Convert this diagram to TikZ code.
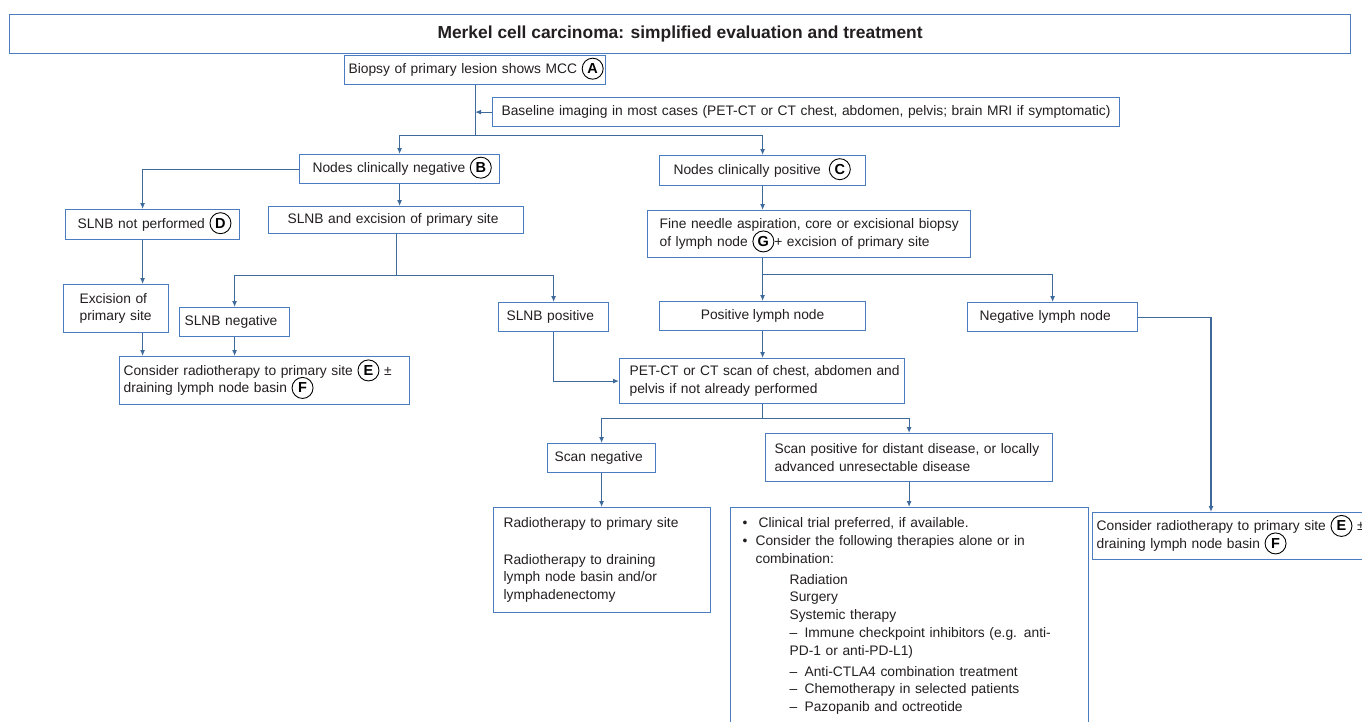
\documentclass[tikz,border=0pt]{standalone}
\usepackage{fontspec}
\setmainfont{Liberation Sans}
\usetikzlibrary{arrows.meta}
\definecolor{boxblue}{HTML}{4A7CBF}
\definecolor{lineblue}{HTML}{3D6A9B}
\definecolor{ink}{HTML}{231F20}
% circled step letter
\newcommand{\lettermark}[1]{\smash{\tikz[baseline=(m.base)]\node[circle,draw=black,fill=white,line width=0.9pt,inner sep=0pt,minimum size=21pt,text width=,align=center,text=black,font=\fontsize{14.5}{14.5}\selectfont\bfseries] (m) {#1};}}

\begin{document}
\begin{tikzpicture}[
  x=1pt, y=-1pt,
  font=\fontsize{13.8}{17.5}\selectfont,
  box/.style={
    draw=boxblue,
    line width=1.2pt,
    fill=white,
    text=ink,
    anchor=north west,
    align=left,
    inner ysep=0pt
  },
  line/.style={draw=lineblue,line width=1.1pt},
  arrow/.style={line,-{Latex[length=6pt,width=5pt]}}
]
\useasboundingbox (0,0) rectangle (1362,721);
\clip (0,0) rectangle (1362,721);
\fill[white] (0,0) rectangle (1362,721);

\node[box,align=center,minimum width=1341pt,minimum height=39pt,font=\fontsize{17.4}{20}\selectfont\bfseries] (title) at (9,14) {Merkel cell carcinoma: simplified evaluation and treatment};

% evaluation
\node[box,text width=253pt,inner xsep=4pt,minimum height=29pt] (biopsy) at (344,55) {\mbox{Biopsy of primary lesion shows MCC \lettermark{A}}};
\node[box,text width=609pt,inner xsep=9pt,minimum height=29pt] (baseline) at (492,97) {\mbox{Baseline imaging in most cases (PET-CT or CT chest, abdomen, pelvis; brain MRI if symptomatic)}};
\node[box,text width=188pt,inner xsep=6pt,minimum height=29pt] (ncn) at (299,154) {\mbox{\hspace*{7pt}Nodes clinically negative \lettermark{B}}};
\node[box,text width=178pt,inner xsep=14pt,minimum height=30pt] (ncp) at (659,155) {\mbox{Nodes clinically positive\hspace{8pt}\lettermark{C}}};

% clinically negative branch
\node[box,text width=158pt,inner xsep=8pt,minimum height=30pt] (notperf) at (65,209) {\mbox{\hspace*{4pt}SLNB not performed \lettermark{D}}};
\node[box,text width=217pt,inner xsep=19pt,minimum height=27pt] (slnbexc) at (268,206) {\mbox{SLNB and excision of primary site}};
\node[box,text width=73pt,inner xsep=16pt,minimum height=48pt] (excision) at (63,284) {\mbox{Excision of}\\\mbox{primary site}};
\node[box,text width=100pt,inner xsep=5pt,minimum height=29pt] (slnbneg) at (179,307) {\mbox{SLNB negative}};
\node[box,text width=94pt,inner xsep=8pt,minimum height=29pt] (slnbpos) at (498,302) {\mbox{SLNB positive}};
\node[box,text width=282pt,inner xsep=4pt,minimum height=48pt] (considerL) at (119,356) {\mbox{Consider radiotherapy to primary site \lettermark{E} ±}\\\mbox{draining lymph node basin \lettermark{F}}};

% clinically positive branch
\node[box,text width=299pt,inner xsep=12pt,minimum height=47pt] (fna) at (647,210) {\mbox{Fine needle aspiration, core or excisional biopsy}\\\mbox{of lymph node \lettermark{G}+ excision of primary site}};
\node[box,align=center,minimum width=206pt,minimum height=29pt] (poslymph) at (659,301) {Positive lymph node};
\node[box,text width=146pt,inner xsep=12pt,minimum height=29pt] (neglymph) at (967,302) {\mbox{Negative lymph node}};
\node[box,text width=265pt,inner xsep=10pt,minimum height=45pt] (petct) at (619,358) {\mbox{PET-CT or CT scan of chest, abdomen and}\\\mbox{pelvis if not already performed}};
\node[box,text width=94pt,inner xsep=7pt,minimum height=29pt] (scanneg) at (547,443) {\mbox{Scan negative}};
\node[box,text width=269pt,inner xsep=9pt,minimum height=48pt] (scanpos) at (765,433) {\mbox{Scan positive for distant disease, or locally}\\\mbox{advanced unresectable disease}};
\node[box,text width=197pt,inner xsep=10pt,minimum height=105pt] (radio) at (493,507) {Radiotherapy to primary site\\[19pt]Radiotherapy to draining\\lymph node basin and/or\\lymphadenectomy};
\node[box,text width=334pt,inner xsep=12pt,inner ysep=10pt,font=\fontsize{13.8}{17.8}\selectfont] (therapy) at (730,507) {%
\makebox[16pt][l]{\textbullet}Clinical trial preferred, if available.\\
\makebox[13pt][l]{\textbullet}Consider the following therapies alone or in\\
\hspace*{13pt}combination:\\[3pt]
\hspace*{47pt}Radiation\\
\hspace*{47pt}Surgery\\
\hspace*{47pt}Systemic therapy\\
\hspace*{47pt}\makebox[15pt][l]{\textendash}Immune checkpoint inhibitors (e.g. anti-\\
\hspace*{47pt}PD-1 or anti-PD-L1)\\[3pt]
\hspace*{47pt}\makebox[15pt][l]{\textendash}Anti-CTLA4 combination treatment\\
\hspace*{47pt}\makebox[15pt][l]{\textendash}Chemotherapy in selected patients\\
\hspace*{47pt}\makebox[15pt][l]{\textendash}Pazopanib and octreotide\rule[-40pt]{0pt}{1pt}};
\node[box,text width=300pt,inner xsep=4pt,minimum height=47pt] (considerR) at (1092,512) {\mbox{Consider radiotherapy to primary site \lettermark{E} ±}\\\mbox{draining lymph node basin \lettermark{F}}};

\coordinate (lcol) at (142.6,0);
\coordinate (rcol) at (1211,0);

% connectors
\draw[line] (biopsy.south) -- ++(0,50) coordinate (split1);
\draw[arrow] (baseline.west) -- (baseline.west -| split1);
\draw[arrow] (split1) -| (ncn.north);
\draw[arrow] (split1) -| (ncp.north);

\draw[arrow] (ncn.west) -| (lcol |- notperf.north);
\draw[arrow] (lcol |- notperf.south) -- (lcol |- excision.north);
\draw[arrow] (lcol |- excision.south) -- (lcol |- considerL.north);
\draw[arrow] (ncn.south) -- (ncn.south |- slnbexc.north);
\draw[line] (slnbexc.south) -- ++(0,41) coordinate (split2);
\draw[arrow] (split2) -| (slnbneg.north);
\draw[arrow] (split2) -| (slnbpos.north);
\draw[arrow] (slnbneg.south) -- (slnbneg.south |- considerL.north);
\draw[arrow] (slnbpos.south) |- (petct.west);

\draw[arrow] (ncp.south) -- (ncp.south |- fna.north);
\draw[line] (ncp.south |- fna.south) -- ++(0,16) coordinate (split3);
\draw[arrow] (split3) -- (poslymph.north);
\draw[arrow] (split3) -| (neglymph.north);
\draw[arrow] (poslymph.south) -- (poslymph.south |- petct.north);
\draw[arrow] (neglymph.east) -| (rcol |- considerR.north);
\draw[line] (petct.south) -- ++(0,14) coordinate (split4);
\draw[arrow] (split4) -| (scanneg.north);
\draw[arrow] (split4) -| (scanpos.north);
\draw[arrow] (scanneg.south) -- (scanneg.south |- radio.north);
\draw[arrow] (scanpos.south) -- (scanpos.south |- therapy.north);
\end{tikzpicture}
\end{document}
